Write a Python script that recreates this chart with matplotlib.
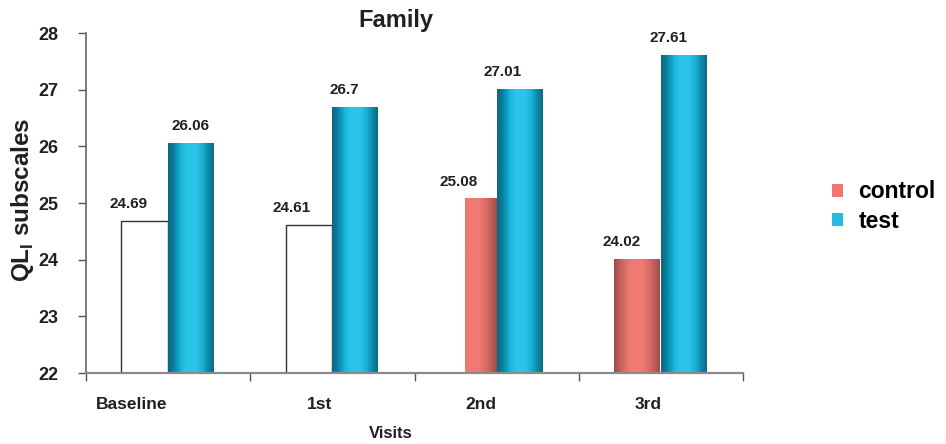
import numpy as np
import matplotlib
matplotlib.use("Agg")
import matplotlib.pyplot as plt
from matplotlib.colors import LinearSegmentedColormap
from matplotlib.patches import Patch
from matplotlib.transforms import ScaledTranslation

# ---- data ----
visits = ["Baseline", "1st", "2nd", "3rd"]
control = [24.69, 24.61, 25.08, 24.02]
test = [26.06, 26.7, 27.01, 27.61]
series_names = ["control", "test"]
y_ticks = [22, 23, 24, 25, 26, 27, 28]

# ---- style ----
control_hollow = [True, True, False, False]
plt.rcParams["font.family"] = ["Liberation Sans", "DejaVu Sans"]
plt.rcParams["mathtext.fontset"] = "custom"
plt.rcParams["mathtext.bf"] = "Liberation Sans:bold"
plt.rcParams["mathtext.rm"] = "Liberation Sans:bold"
TXT = "#231f20"

cyan_cmap = LinearSegmentedColormap.from_list("cy", [
    (0.0, "#0b6680"), (0.1, "#0b7a96"), (0.2, "#0a9abd"), (0.3, "#1eb9df"),
    (0.42, "#2cc5ea"), (0.62, "#2cc3e8"), (0.76, "#1aafd3"), (0.88, "#0c88a6"),
    (1.0, "#0b6a82")])
red_cmap = LinearSegmentedColormap.from_list("rd", [
    (0.0, "#9a4a4a"), (0.15, "#c8625e"), (0.35, "#f07a72"), (0.62, "#f07a72"),
    (0.8, "#d46862"), (1.0, "#9e4c4c")])

fig = plt.figure(figsize=(9.46, 4.44), dpi=100)
ax = fig.add_axes([86/946, 1-373/444, (743-86)/946, (373-33)/444])

n = len(visits)
x = np.arange(n) + 0.5
w = 0.284
ybase = y_ticks[0]

ctrl_bars = ax.bar(x - w/2, np.array(control) - ybase, w, bottom=ybase,
                   color="white", edgecolor="#333333", linewidth=1.0, zorder=2)
test_bars = ax.bar(x + w/2, np.array(test) - ybase, w, bottom=ybase,
                   color="none", linewidth=0, zorder=2)

grad = np.linspace(0, 1, 256).reshape(1, -1)

def shade(patch, cmap, crop=0.0):
    x0 = patch.get_x(); pw = patch.get_width()
    y0 = patch.get_y(); ph = patch.get_height()
    full = (x0, x0 + pw - 0.004, y0, y0 + ph)
    if crop:
        patch.set_x(x0 + crop); patch.set_width(pw - crop)
    patch.set_facecolor("none"); patch.set_edgecolor("none")
    im = ax.imshow(grad, extent=full, aspect="auto", cmap=cmap,
                   interpolation="bilinear", zorder=2)
    im.set_clip_path(patch)

for i, p in enumerate(ctrl_bars):
    if not control_hollow[i]:
        shade(p, red_cmap, crop=0.09 if i == 2 else 0.0)
for p in test_bars:
    shade(p, cyan_cmap)

# value labels
ctrl_off = [-16, -17, -15, -16]
test_off = [-1, -11, -17, -16]
for i in range(n):
    for val, xc, off in ((control[i], x[i] - w/2, ctrl_off[i]),
                         (test[i], x[i] + w/2, test_off[i])):
        ax.annotate(f"{val:g}", (xc, val), xytext=(off * 0.72, 7),
                    textcoords="offset points", ha="center", va="bottom",
                    fontsize=11, fontweight="bold", color=TXT)

ax.set_xlim(0, n)
ax.set_ylim(y_ticks[0], y_ticks[-1])
ax.set_yticks(y_ticks)
ax.set_yticklabels([str(t) for t in y_ticks], fontsize=13, fontweight="bold", color=TXT)
ax.set_xticks(np.arange(n + 1))
ax.set_xticklabels([])
ax.set_xticks(x, minor=True)
ax.set_xticklabels(visits, minor=True, fontsize=12.5, fontweight="bold", color=TXT)
ax.tick_params(axis="x", which="minor", length=0, pad=17)
ax.tick_params(axis="x", which="major", length=6, color="#555555", width=1)
ax.tick_params(axis="y", length=6, color="#555555", width=1, pad=14)
lab_off = [-37, -13, -16, -13]
for lab, off in zip(ax.get_xticklabels(minor=True), lab_off):
    lab.set_transform(lab.get_transform() + ScaledTranslation(off/100, 0, fig.dpi_scale_trans))

for s in ("top", "right"):
    ax.spines[s].set_visible(False)
ax.spines["bottom"].set_color("#8a8a8a")
ax.spines["bottom"].set_linewidth(1.6)
ax.spines["left"].set_color("#666666")
ax.spines["left"].set_linewidth(1.2)
ax.spines["bottom"].set_zorder(3)

fig.text(396/946, 1-21/444, "Family", ha="center", va="center",
         fontsize=17, fontweight="bold", color=TXT)
fig.text(391/946, 1-433/444, "Visits", ha="center", va="center",
         fontsize=12, fontweight="bold", color=TXT)
fig.text(23/946, 1-200/444, r"QL$_{\mathbf{I}}$ subscales", rotation=90,
         ha="center", va="center", fontsize=17.5, fontweight="bold", color=TXT)

handles = [Patch(facecolor="#ef7770", edgecolor="none"),
           Patch(facecolor="#22bde3", edgecolor="none")]
fig.legend(handles, series_names, loc="center left",
           bbox_to_anchor=(832/946, 1-206.5/444), frameon=False,
           prop={"weight": "bold", "size": 16.5}, handlelength=0.5,
           handleheight=0.5, handletextpad=0.65, labelspacing=0.28,
           borderpad=0, borderaxespad=0)

fig.savefig("out.png", dpi=100)
